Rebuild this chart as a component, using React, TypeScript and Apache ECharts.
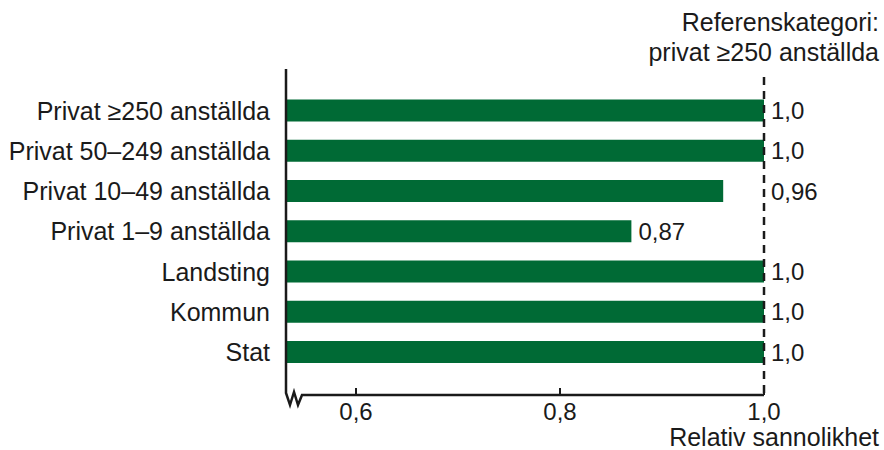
import React, { useEffect, useRef } from "react";
import * as echarts from "echarts";

const categories = [
  "Privat ≥250 anställda",
  "Privat 50–249 anställda",
  "Privat 10–49 anställda",
  "Privat 1–9 anställda",
  "Landsting",
  "Kommun",
  "Stat",
];
const values = [1.0, 1.0, 0.96, 0.87, 1.0, 1.0, 1.0];
const tickValues = [0.6, 0.8, 1.0];
const refValue = 1.0;
const xMin = 0.5314;
const xMax = 1.0;
const refTitle = ["Referenskategori:", "privat ≥250 anställda"];
const axisTitle = "Relativ sannolikhet";

const fmt = (v: number) => {
  const s = String(v);
  return (s.includes(".") ? s : s + ".0").replace(".", ",");
};

const FONT = "Liberation Sans";
const TXT = "#1a1a1a";
const GREEN = "#006a35";
const FS = 24;
const FS_BIG = 25;

export default function App() {
  const ref = useRef<HTMLDivElement>(null);
  useEffect(() => {
    document.body.style.margin = "0";
    if (!ref.current) return;
    const chart = echarts.init(ref.current, null, { renderer: "svg" });
    const L = 286, R = 764, T = 90.4, B = 372.2, axisY = 395, axTop = 69;
    const pxPerUnit = (R - L) / (xMax - xMin);
    const labelGap = 7;
    // labels that would collide with the dashed reference line are moved to its right
    const barData = values.map((v) => {
      const gapToRef = (refValue - v) * pxPerUnit;
      const pushed = v < refValue && gapToRef < 50;
      return pushed
        ? { value: v, label: { distance: labelGap + gapToRef } }
        : { value: v };
    });
    chart.setOption({
      animation: false,
      grid: { left: L, right: 884 - R, top: T, height: B - T, containLabel: false },
      xAxis: {
        type: "value",
        min: xMin,
        max: xMax,
        offset: axisY - B,
        splitLine: { show: false },
        axisLine: { show: false },
        axisTick: {
          show: true,
          inside: true,
          length: 7,
          customValues: tickValues,
          lineStyle: { color: TXT, width: 2 },
        },
        axisLabel: {
          customValues: tickValues,
          formatter: (v: number) => fmt(v),
          fontFamily: FONT,
          fontSize: FS,
          color: TXT,
          margin: 4,
        },
      },
      yAxis: {
        type: "category",
        data: categories,
        inverse: true,
        axisLine: { show: false },
        axisTick: { show: false },
        axisLabel: { fontFamily: FONT, fontSize: FS_BIG, color: TXT, margin: 16 },
      },
      series: [
        {
          type: "bar",
          data: barData,
          barWidth: 22,
          itemStyle: { color: GREEN },
          label: {
            show: true,
            position: "right",
            distance: labelGap,
            formatter: (p: any) => fmt(p.value),
            fontFamily: FONT,
            fontSize: FS,
            color: TXT,
          },
        },
      ],
      graphic: [
        {
          type: "polyline",
          shape: {
            points: [
              [L, axTop],
              [L, axisY - 2],
              [L + 4, axisY + 10],
              [L + 8, axisY - 3],
              [L + 12, axisY + 10],
              [L + 16, axisY],
              [R, axisY],
            ],
          },
          style: { stroke: TXT, lineWidth: 2.5, fill: "none" },
          z: 10,
        },
        {
          type: "line",
          shape: { x1: R, y1: 77, x2: R, y2: axisY },
          style: { stroke: TXT, lineWidth: 2.5, lineDash: [8, 6] },
          z: 10,
        },
        {
          type: "text",
          x: 879,
          y: 437,
          style: {
            text: axisTitle,
            font: `${FS_BIG}px "${FONT}"`,
            fill: TXT,
            textAlign: "right",
            textVerticalAlign: "middle",
          },
        },
        {
          type: "text",
          x: 879,
          y: 22,
          style: {
            text: refTitle[0],
            font: `${FS_BIG}px "${FONT}"`,
            fill: TXT,
            textAlign: "right",
            textVerticalAlign: "middle",
          },
        },
        {
          type: "text",
          x: 879,
          y: 52,
          style: {
            text: refTitle[1],
            font: `${FS_BIG}px "${FONT}"`,
            fill: TXT,
            textAlign: "right",
            textVerticalAlign: "middle",
          },
        },
      ],
    });
    return () => chart.dispose();
  }, []);
  return <div ref={ref} style={{ width: 884, height: 450 }} />;
}
